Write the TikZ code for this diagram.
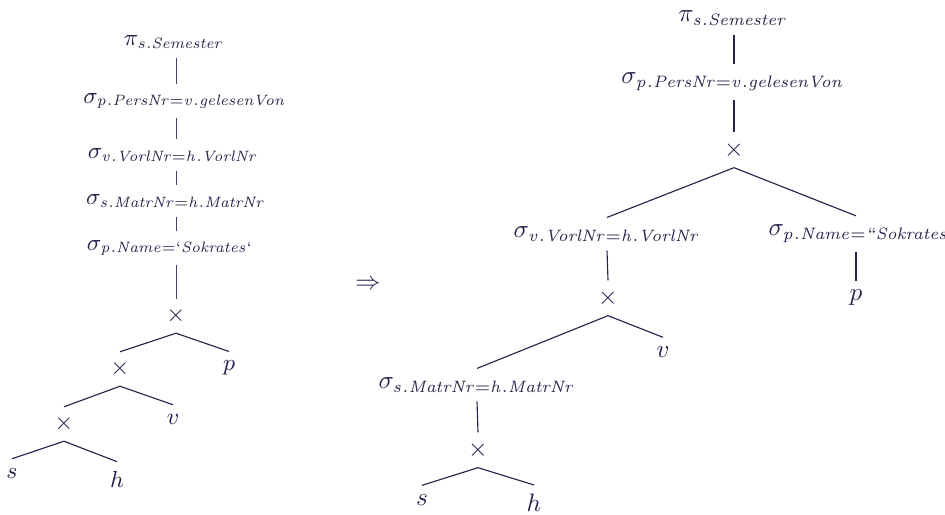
\RequirePackage{fix-cm}
\documentclass[tikz,border=0pt]{standalone}
\DeclareMathSizes{9.3}{9.3}{6}{4.5}
\DeclareMathSizes{10.1}{10.1}{6.6}{5}
\begin{document}
\begin{tikzpicture}[x=0.4pt,y=-0.4pt,
  every node/.style={text=navy},
  lt/.style={inner xsep=0pt,inner ysep=3.5pt,font=\fontsize{9.3}{11}\selectfont},
  rt/.style={inner xsep=0pt,inner ysep=3.5pt,font=\fontsize{10.1}{12}\selectfont},
  edge/.style={draw=navy,line width=0.45pt},
  vedge/.style={draw=navy!85,line width=0.4pt}]
\definecolor{navy}{RGB}{35,35,75}
\useasboundingbox (0,0) rectangle (945,514);
% left tree
\coordinate (trL) at (176,0);
\node[lt] (pi1) at (174,42) {$\pi_{\mathit{s.Semester}}$};
\node[lt] (s1) at (185,101) {$\sigma_{\mathit{p.PersNr=v.gelesenVon}}$};
\node[lt] (s2) at (173,155) {$\sigma_{\mathit{v.VorlNr=h.VorlNr}}$};
\node[lt] (s3) at (176,201) {$\sigma_{\mathit{s.MatrNr=h.MatrNr}}$};
\node[lt] (s4) at (170,248) {$\sigma_{\mathit{p.Name=`Sokrates`}}$};
\node[lt] (x1) at (176,316) {$\times$};
\node[lt] (x2) at (120,369) {$\times$};
\node[lt] (p1) at (229,368) {$p$};
\node[lt] (x3) at (64,424) {$\times$};
\node[lt] (v1) at (173,419) {$v$};
\node[lt] (sl) at (12,473) {$s$};
\node[lt] (hl) at (117,479) {$h$};
\draw[vedge] (pi1.south -| trL) -- (s1.north -| trL);
\draw[vedge] (s1.south -| trL) -- (s2.north -| trL);
\draw[vedge] (s2.south -| trL) -- (s3.north -| trL);
\draw[vedge] (s3.south -| trL) -- (s4.north -| trL);
\draw[vedge] (s4.south -| trL) -- (x1.north);
\draw[edge] (x2.north) -- (x1.south) -- (p1.north);
\draw[edge] (x3.north) -- (x2.south) -- (v1.north);
\draw[edge] (sl.north) -- (x3.south) -- (hl.north);
% arrow
\node[rt] (imp) at (368,285) {$\Rightarrow$};
% right tree
\coordinate (trR) at (734,0);
\coordinate (trP) at (856,0);
\node[rt] (pi2) at (733,18) {$\pi_{\mathit{s.Semester}}$};
\node[rt] (s5) at (733,82) {$\sigma_{\mathit{p.PersNr=v.gelesenVon}}$};
\node[rt] (x4) at (734,150) {$\times$};
\node[rt] (s6) at (607,234) {$\sigma_{\mathit{v.VorlNr=h.VorlNr}}$};
\node[rt,anchor=west] (s7) at (768,234) {$\sigma_{\mathit{p.Name=``Sokrates}}$};
\node[rt] (x5) at (608,298) {$\times$};
\node[rt] (p2) at (856,298) {$p$};
\node[rt] (v2) at (663,352) {$v$};
\node[rt] (s8) at (477,385) {$\sigma_{\mathit{s.MatrNr=h.MatrNr}}$};
\node[rt] (x6) at (478,450) {$\times$};
\node[rt] (sr) at (422,500) {$s$};
\node[rt] (hr) at (534,503) {$h$};
\draw[edge] (pi2.south -| trR) -- (s5.north -| trR);
\draw[edge] (s5.south -| trR) -- (x4.north);
\draw[edge] (s6.north) -- (x4.south) -- (s7.north -| trP);
\draw[edge] (s6.south) -- (x5.north);
\draw[edge] (s7.south -| trP) -- (p2.north);
\draw[edge] (s8.north) -- (x5.south) -- (v2.north);
\draw[edge] (s8.south) -- (x6.north);
\draw[edge] (sr.north) -- (x6.south) -- (hr.north);
\end{tikzpicture}
\end{document}
